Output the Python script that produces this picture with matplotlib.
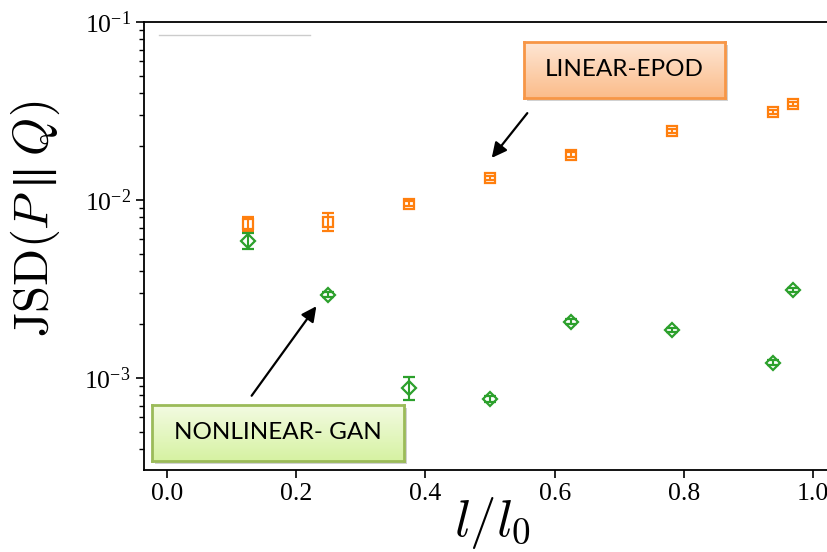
import numpy as np
import matplotlib
matplotlib.use("Agg")
import matplotlib.pyplot as plt
from matplotlib.patches import Rectangle
from matplotlib.lines import Line2D

plt.rcParams['font.family'] = ['Liberation Serif', 'DejaVu Serif']
plt.rcParams['mathtext.fontset'] = 'cm'

# l/l0 positions
x_vals = [0.125, 0.25, 0.375, 0.5, 0.625, 0.78125, 0.9375, 0.96875]

# LINEAR-EPOD
epod = [7.36e-3, 7.55e-3, 9.53e-3, 1.33e-2, 1.80e-2, 2.45e-2, 3.13e-2, 3.47e-2]
epod_err = [0.7e-3, 0.85e-3, 0.3e-3, 0.4e-3, 0.5e-3, 0.6e-3, 0.8e-3, 0.9e-3]

# NONLINEAR-GAN
gan = [5.90e-3, 2.94e-3, 8.81e-4, 7.64e-4, 2.07e-3, 1.87e-3, 1.22e-3, 3.13e-3]
gan_err = [0.58e-3, 0.1e-3, 1.3e-4, 3e-5, 6e-5, 5e-5, 4e-5, 8e-5]

orange = '#ff7f0e'
green = '#2ca02c'

fig = plt.figure(figsize=(8.27, 5.52), dpi=100)
ax = fig.add_axes([0.1741, 0.1486, 0.8259, 0.8116])

ax.errorbar(x_vals, epod, yerr=epod_err, fmt='s', color=orange, mfc='none',
            mec=orange, ms=7.5, mew=1.6, capsize=4, elinewidth=1.5, capthick=1.5)
ax.errorbar(x_vals, gan, yerr=gan_err, fmt='D', color=green, mfc='none',
            mec=green, ms=7, mew=1.6, capsize=4, elinewidth=1.5, capthick=1.5)

ax.set_yscale('log')
ax.set_xlim(-0.0351, 1.0212)
ax.set_ylim(3.04e-4, 1e-1)
ax.set_xticks([0.0, 0.2, 0.4, 0.6, 0.8, 1.0])
ax.set_xticklabels(['0.0', '0.2', '0.4', '0.6', '0.8', '1.0'])
ax.tick_params(axis='both', which='major', labelsize=18.5, length=6, width=1.2, direction='out')
ax.tick_params(axis='y', which='minor', length=3.5, width=1.0, direction='out')
ax.spines['right'].set_visible(False)
for s in ['left', 'bottom', 'top']:
    ax.spines[s].set_linewidth(1.3)

ax.set_ylabel(r'$\mathrm{JSD}(P\parallel Q)$', fontsize=35)
ax.yaxis.set_label_coords(-0.12, 0.56)
ax.set_xlabel(r'$l/l_0$', fontsize=38)
ax.xaxis.set_label_coords(0.51, -0.055)

# faint leftover legend line
ax.add_line(Line2D([0.022, 0.243], [0.971, 0.971], transform=ax.transAxes,
                   color='#cccccc', lw=1.0))


def callout(rect, text, top, bottom, edge):
    x0, y0, w, h = rect
    shadow = Rectangle((x0 + 0.004, y0 - 0.006), w, h, transform=fig.transFigure,
                       facecolor='#000000', alpha=0.18, edgecolor='none', zorder=4)
    fig.patches.append(shadow)
    bax = fig.add_axes(rect, zorder=5)
    t = np.linspace(0, 1, 64).reshape(-1, 1)
    c0 = np.array(matplotlib.colors.to_rgb(top))
    c1 = np.array(matplotlib.colors.to_rgb(bottom))
    grad = c0 * (1 - t[..., None]) + c1 * t[..., None]
    bax.imshow(grad, aspect='auto', extent=(0, 1, 0, 1), origin='upper')
    bax.set_xticks([])
    bax.set_yticks([])
    for s in bax.spines.values():
        s.set_color(edge)
        s.set_linewidth(2)
    bax.text(0.5, 0.5, text, ha='center', va='center', fontsize=17.5,
             family=['Lato', 'DejaVu Sans'], color='black')


callout([0.6336, 0.8225, 0.2430, 0.1014], 'LINEAR-EPOD', '#fee6d4', '#fbbc8a', '#f79646')
callout([0.1838, 0.1649, 0.3047, 0.1014], 'NONLINEAR- GAN', '#f3fbe2', '#d6f2a2', '#9bbb59')

arrow = dict(arrowstyle='-|>,head_length=0.9,head_width=0.45', color='black', lw=1.6)
ax.annotate('', xy=(0.5925, 0.710), xytext=(0.6397, 0.799),
            xycoords='figure fraction', textcoords='figure fraction', arrowprops=arrow)
ax.annotate('', xy=(0.3845, 0.4493), xytext=(0.3023, 0.279),
            xycoords='figure fraction', textcoords='figure fraction', arrowprops=arrow)

fig.savefig('out.png', dpi=100)
